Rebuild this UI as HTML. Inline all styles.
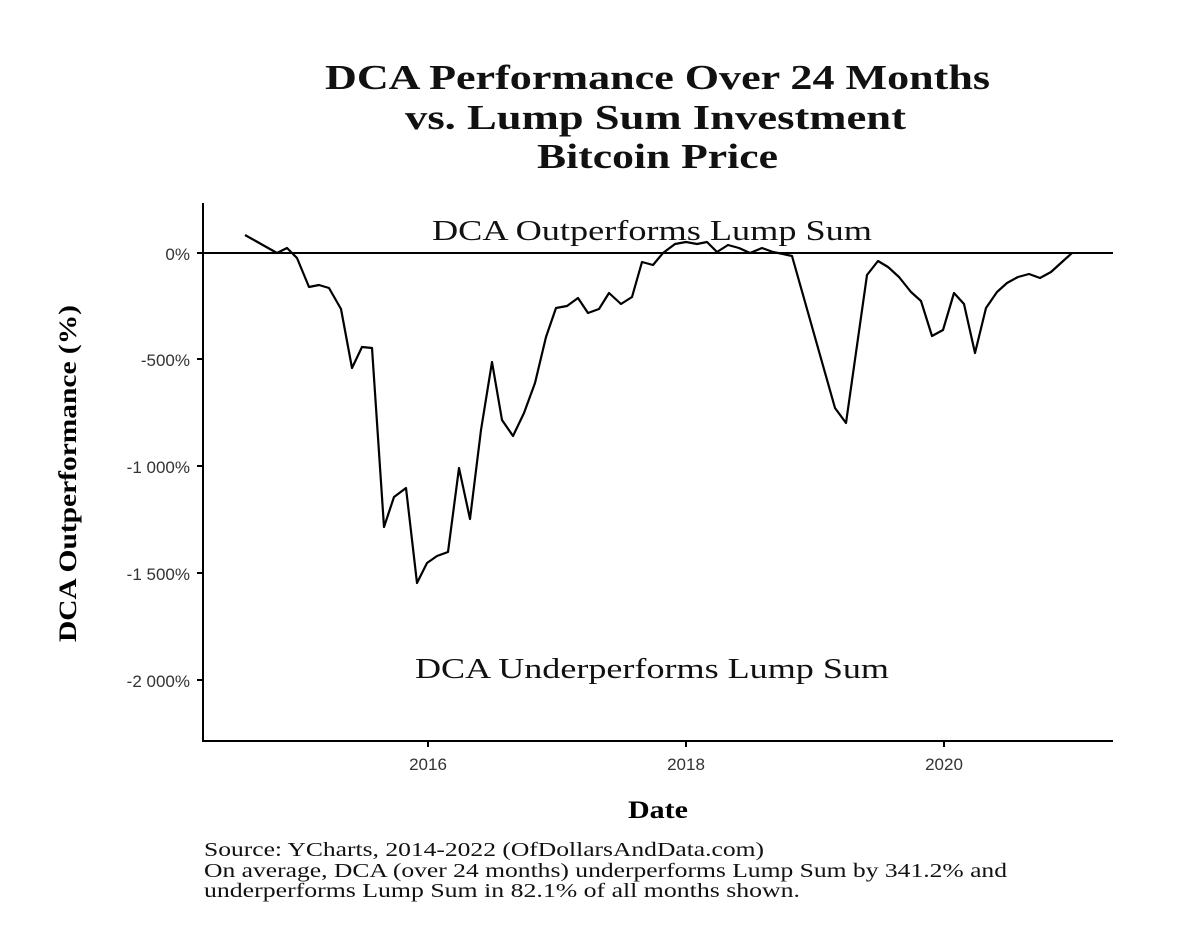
<!DOCTYPE html>
<html><head><style>body{margin:0;background:#fff}</style></head><body>
<svg width="1190" height="928" xmlns="http://www.w3.org/2000/svg">
<rect width="1190" height="928" fill="#fff"/>
<g font-family="Liberation Serif, serif" font-weight="bold" font-size="35" fill="#111" lengthAdjust="spacingAndGlyphs">
<text x="325" y="89" textLength="665" lengthAdjust="spacingAndGlyphs">DCA Performance Over 24 Months</text>
<text x="405" y="129" textLength="501" lengthAdjust="spacingAndGlyphs">vs. Lump Sum Investment</text>
<text x="537" y="168" textLength="241" lengthAdjust="spacingAndGlyphs">Bitcoin Price</text>
</g>
<line x1="203" y1="203" x2="203" y2="742" stroke="#000" stroke-width="2"/>
<line x1="202" y1="741" x2="1113" y2="741" stroke="#000" stroke-width="2"/>
<line x1="203" y1="253" x2="1113" y2="253" stroke="#000" stroke-width="2"/>
<g stroke="#000" stroke-width="2">
<line x1="197" y1="253" x2="203" y2="253"/><line x1="197" y1="359" x2="203" y2="359"/><line x1="197" y1="466" x2="203" y2="466"/><line x1="197" y1="573" x2="203" y2="573"/><line x1="197" y1="680" x2="203" y2="680"/>
<line x1="428" y1="741" x2="428" y2="747"/><line x1="686" y1="741" x2="686" y2="747"/><line x1="944" y1="741" x2="944" y2="747"/>
</g>
<g font-family="Liberation Sans, sans-serif" font-size="17" fill="#333" text-anchor="end">
<text x="190" y="260">0%</text><text x="190" y="366">-500%</text><text x="190" y="473">-1 000%</text><text x="190" y="580">-1 500%</text><text x="190" y="687">-2 000%</text>
</g>
<g font-family="Liberation Sans, sans-serif" font-size="17" fill="#333" text-anchor="middle">
<text x="428" y="770">2016</text><text x="686" y="770">2018</text><text x="944" y="770">2020</text>
</g>
<text x="628" y="818" textLength="60" lengthAdjust="spacingAndGlyphs" font-family="Liberation Serif, serif" font-weight="bold" font-size="25">Date</text>
<text transform="translate(76,642) rotate(-90)" textLength="337" lengthAdjust="spacingAndGlyphs" font-family="Liberation Serif, serif" font-weight="bold" font-size="25">DCA Outperformance (%)</text>
<g font-family="Liberation Serif, serif" font-size="29" fill="#111">
<text x="432" y="240" textLength="440" lengthAdjust="spacingAndGlyphs">DCA Outperforms Lump Sum</text>
<text x="415" y="678" textLength="474" lengthAdjust="spacingAndGlyphs">DCA Underperforms Lump Sum</text>
</g>
<polyline fill="none" stroke="#000" stroke-width="2.2" stroke-linejoin="round" points="245,235 277,253 287,248 297,258 309,287 319,285 329,288 341,309 352,368 362,347 372,348 384,527 394,497 406,488 417,583 427,563 437,556 448,552 459,468 470,519 481,430 492,362 502,420 513,436 524,413 535,383 546,337 556,308 567,306 578,298 588,313 599,309 609,293 621,304 632,297 642,262 653,265 663,253 675,244 686,242 697,244 707,242 717,252 728,245 739,248 750,253 762,248 773,252 783,254 792,256 835,408 846,423 867,275 878,261 888,267 899,277 911,292 921,301 932,336 943,330 954,293 964,304 975,353 986,308 997,292 1007,283 1018,277 1029,274 1040,278 1051,272 1062,262 1072,253"/>
<g font-family="Liberation Serif, serif" font-size="20" fill="#111">
<text x="204" y="856" textLength="560" lengthAdjust="spacingAndGlyphs">Source:  YCharts, 2014-2022 (OfDollarsAndData.com)</text>
<text x="204" y="877" textLength="803" lengthAdjust="spacingAndGlyphs">On average, DCA (over 24 months) underperforms Lump Sum by 341.2% and</text>
<text x="204" y="897" textLength="596" lengthAdjust="spacingAndGlyphs">underperforms Lump Sum in 82.1% of all months shown.</text>
</g>
</svg>
</body></html>
